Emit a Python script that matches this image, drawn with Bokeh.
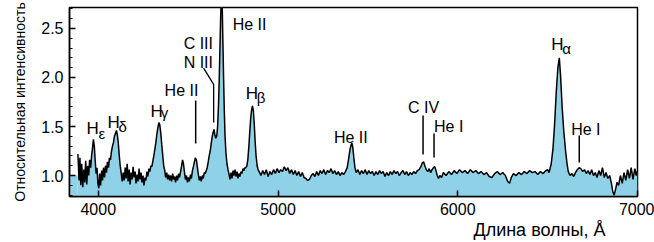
import math
from bokeh.plotting import figure
from bokeh.models import Range1d, Title, SingleIntervalTicker, PrintfTickFormatter
from bokeh.embed import file_html
from bokeh.resources import INLINE
from bokeh.core.properties import value

# ---------------- data ----------------
wavelength = [
    3887, 3893, 3898, 3903, 3908, 3914, 3919, 3925, 3930, 3936, 3941, 3947, 3952, 3958, 3963, 3968,
    3973, 3978, 3983, 3988, 3993, 3998, 4003, 4008, 4013, 4019, 4024, 4029, 4035, 4040, 4046, 4051,
    4057, 4062, 4068, 4073, 4079, 4085, 4090, 4096, 4101, 4106, 4111, 4117, 4122, 4128, 4133, 4139,
    4144, 4150, 4155, 4161, 4166, 4172, 4177, 4183, 4188, 4194, 4199, 4205, 4210, 4216, 4221, 4227,
    4232, 4238, 4243, 4249, 4254, 4260, 4265, 4271, 4276, 4282, 4287, 4293, 4298, 4304, 4309, 4315,
    4320, 4326, 4331, 4337, 4342, 4348, 4353, 4359, 4364, 4370, 4375, 4381, 4386, 4392, 4397, 4403,
    4408, 4414, 4419, 4425, 4430, 4436, 4441, 4447, 4452, 4458, 4463, 4469, 4474, 4480, 4485, 4491,
    4496, 4502, 4507, 4513, 4518, 4524, 4529, 4535, 4540, 4546, 4551, 4557, 4562, 4568, 4573, 4579,
    4584, 4590, 4595, 4601, 4606, 4612, 4617, 4623, 4628, 4634, 4639, 4644, 4649, 4654, 4659, 4664,
    4669, 4673, 4677, 4681, 4684, 4687, 4690, 4693, 4697, 4701, 4705, 4710, 4716, 4722, 4728, 4733,
    4739, 4744, 4750, 4755, 4761, 4766, 4772, 4777, 4783, 4788, 4794, 4799, 4805, 4810, 4816, 4821,
    4827, 4832, 4838, 4843, 4848, 4853, 4858, 4863, 4868, 4873, 4878, 4884, 4889, 4895, 4905, 4915,
    4925, 4935, 4945, 4955, 4965, 4975, 4985, 4995, 5005, 5015, 5025, 5035, 5045, 5055, 5065, 5075,
    5085, 5095, 5105, 5115, 5125, 5135, 5145, 5155, 5165, 5175, 5185, 5195, 5205, 5215, 5225, 5235,
    5245, 5255, 5265, 5275, 5285, 5295, 5305, 5315, 5325, 5335, 5345, 5355, 5365, 5375, 5385, 5393,
    5400, 5406, 5411, 5416, 5422, 5428, 5435, 5445, 5455, 5465, 5475, 5485, 5495, 5505, 5515, 5525,
    5535, 5545, 5555, 5565, 5575, 5585, 5595, 5605, 5615, 5625, 5635, 5645, 5655, 5665, 5675, 5685,
    5695, 5705, 5715, 5725, 5735, 5745, 5755, 5765, 5775, 5785, 5795, 5803, 5810, 5817, 5825, 5833,
    5841, 5849, 5857, 5865, 5872, 5879, 5886, 5893, 5900, 5910, 5920, 5935, 5950, 5965, 5980, 5995,
    6010, 6025, 6040, 6055, 6070, 6085, 6100, 6115, 6130, 6145, 6160, 6175, 6190, 6205, 6220, 6235,
    6250, 6265, 6278, 6288, 6298, 6310, 6325, 6340, 6355, 6370, 6385, 6400, 6415, 6430, 6445, 6460,
    6475, 6490, 6500, 6508, 6520, 6530, 6538, 6548, 6557, 6565, 6572, 6581, 6590, 6600, 6608, 6615,
    6625, 6635, 6645, 6655, 6665, 6675, 6685, 6695, 6705, 6715, 6725, 6735, 6745, 6755, 6765, 6775,
    6785, 6795, 6805, 6815, 6825, 6835, 6845, 6855, 6862, 6870, 6878, 6886, 6895, 6905, 6915, 6925,
    6935, 6945, 6955, 6965, 6975, 6985, 6993, 7000,
]
intensity = [
    1.22, 0.95, 1.18, 0.90, 1.12, 0.88, 1.06, 0.93, 1.15, 0.91, 1.10, 1.00, 1.16, 1.08, 1.20, 1.28,
    1.37, 1.30, 1.15, 1.02, 1.08, 0.92, 0.87, 1.02, 0.90, 1.05, 0.95, 1.08, 0.98, 1.10, 1.03, 1.14,
    1.08, 1.18, 1.16, 1.24, 1.30, 1.34, 1.40, 1.43, 1.46, 1.42, 1.34, 1.20, 1.10, 1.02, 0.94, 1.03,
    0.95, 1.08, 0.97, 1.12, 0.94, 1.06, 0.91, 1.03, 0.96, 1.09, 0.98, 1.04, 0.92, 1.01, 0.94, 1.07,
    0.96, 1.03, 0.93, 1.00, 0.90, 0.98, 0.95, 1.04, 0.99, 1.07, 1.04, 1.10, 1.09, 1.15, 1.20, 1.27,
    1.33, 1.42, 1.48, 1.54, 1.52, 1.43, 1.32, 1.20, 1.10, 1.05, 0.98, 1.03, 0.96, 1.01, 0.95, 1.00,
    0.94, 1.02, 0.96, 0.99, 0.93, 1.00, 0.95, 1.02, 0.98, 1.04, 1.09, 1.16, 1.12, 1.03, 0.96, 1.00,
    0.93, 0.98, 0.94, 1.01, 0.97, 1.05, 1.09, 1.14, 1.18, 1.16, 1.09, 1.01, 0.95, 0.99, 0.94, 1.00,
    0.97, 1.03, 1.02, 1.05, 1.08, 1.14, 1.20, 1.25, 1.32, 1.40, 1.44, 1.47, 1.41, 1.38, 1.40, 1.50,
    1.72, 1.98, 2.30, 2.62, 2.78, 2.85, 2.70, 2.40, 2.02, 1.68, 1.42, 1.24, 1.12, 1.06, 1.01, 0.96,
    1.03, 0.97, 1.05, 1.00, 1.06, 0.99, 1.04, 0.97, 1.02, 0.99, 1.04, 1.02, 1.07, 1.05, 1.08, 1.08,
    1.10, 1.16, 1.30, 1.45, 1.58, 1.67, 1.71, 1.66, 1.52, 1.34, 1.20, 1.10, 1.06, 1.04, 1.00, 1.05,
    1.01, 1.06, 0.99, 1.04, 1.01, 1.06, 1.02, 1.07, 1.03, 1.06, 1.04, 1.09, 1.05, 1.08, 1.02, 1.06,
    1.01, 1.05, 1.00, 1.04, 0.99, 1.03, 0.98, 0.97, 0.95, 0.96, 1.00, 1.02, 0.99, 1.04, 1.00, 1.05,
    1.02, 1.06, 1.01, 1.05, 1.03, 1.07, 1.02, 1.05, 1.01, 1.04, 1.00, 1.03, 1.01, 1.04, 1.08, 1.17,
    1.26, 1.31, 1.33, 1.29, 1.18, 1.08, 1.03, 1.06, 1.01, 1.05, 1.02, 1.06, 1.01, 1.05, 1.02, 1.04,
    1.00, 1.04, 1.01, 1.05, 1.02, 1.04, 0.99, 1.03, 1.00, 1.04, 1.01, 1.05, 1.02, 1.04, 1.00, 1.03,
    1.05, 1.01, 1.04, 1.00, 1.03, 1.01, 1.04, 1.02, 1.05, 1.06, 1.09, 1.13, 1.14, 1.10, 1.06, 1.04,
    1.07, 1.03, 1.06, 1.08, 1.09, 1.05, 1.00, 0.97, 1.00, 0.98, 1.03, 1.00, 1.04, 1.01, 1.05, 1.02,
    1.06, 1.03, 1.05, 1.02, 1.06, 1.03, 1.05, 1.02, 1.04, 1.01, 1.03, 0.99, 0.98, 1.02, 1.04, 1.01,
    1.03, 1.00, 0.94, 0.92, 0.98, 1.02, 1.00, 1.03, 1.01, 1.04, 1.02, 1.05, 1.03, 1.04, 1.01, 1.04,
    1.02, 1.05, 1.06, 1.03, 1.12, 1.28, 1.50, 1.85, 2.10, 2.20, 2.02, 1.69, 1.45, 1.25, 1.12, 1.04,
    1.00, 1.02, 0.99, 1.03, 1.06, 1.08, 1.07, 1.04, 1.06, 1.02, 1.05, 1.01, 1.06, 1.00, 1.03, 0.98,
    1.05, 1.00, 1.08, 0.98, 1.03, 0.97, 1.00, 0.92, 0.84, 0.80, 0.86, 0.93, 0.90, 1.00, 0.92, 1.03,
    0.95, 1.06, 0.97, 1.08, 0.96, 1.07, 1.00, 1.05,
]
# flat fill to the left of the recorded spectrum
fill_pad_wavelength = [3840, 3886]
fill_pad_intensity = [1.0, 1.0]

x_range = (3840, 7000)
y_range = (0.786, 2.714)

# line identifications (simple labels)
ion_text = ["He II", "C III", "N III", "He II", "He II", "C IV", "He I", "He I"]
ion_x = [4369, 4475, 4475, 4748, 5311, 5723, 5868, 6631]
ion_y = [1.867, 2.347, 2.153, 2.541, 1.388, 1.694, 1.500, 1.469]

# Balmer labels: "H" + greek subscript
balmer_greek = ["ε", "δ", "γ", "β", "α"]
balmer_h_x = [3935, 4052, 4291, 4820, 6520]
balmer_h_y = [1.480, 1.541, 1.653, 1.837, 2.337]
balmer_g_x = [4002, 4113, 4347, 4882, 6581]
balmer_g_y = [1.429, 1.500, 1.643, 1.796, 2.296]

# marker ticks (vertical strokes)
tick_x = [4542, 5807, 5868, 6676]
tick_y0 = [1.327, 1.214, 1.184, 1.133]
tick_y1 = [1.765, 1.612, 1.429, 1.408]
# C III / N III pointer
pointer_x = [4586, 4642, 4642]
pointer_y = [2.095, 1.930, 1.541]

FONT = "Liberation Sans"

p = figure(width=654, height=242, output_backend="svg", toolbar_location=None,
           x_range=Range1d(*x_range), y_range=Range1d(*y_range),
           min_border_left=69, min_border_right=17, min_border_top=7, min_border_bottom=46)
p.background_fill_color = "white"
p.border_fill_color = "white"
p.grid.visible = False
p.outline_line_color = "black"
p.outline_line_width = 1.5

p.varea(x=fill_pad_wavelength, y1=0.6, y2=fill_pad_intensity, fill_color="#8fd1e6")
p.varea(x=wavelength, y1=0.6, y2=intensity, fill_color="#8fd1e6")
p.line(wavelength, intensity, line_color="black", line_width=1.5)

p.segment(x0=tick_x, y0=tick_y0, x1=tick_x, y1=tick_y1, line_color="black", line_width=1.5)
p.line(pointer_x, pointer_y, line_color="black", line_width=1.3)

p.text(x=ion_x, y=ion_y, text=ion_text, text_font=value(FONT), text_font_size=value("16px"),
       text_align="left", text_baseline="alphabetic", text_color="black")
p.text(x=balmer_h_x, y=balmer_h_y, text=["H"] * len(balmer_h_x), text_font=value(FONT),
       text_font_size=value("17px"), text_align="left", text_baseline="alphabetic", text_color="black")
p.text(x=balmer_g_x, y=balmer_g_y, text=balmer_greek, text_font=value(FONT),
       text_font_size=value("15px"), text_align="left", text_baseline="alphabetic", text_color="black")

for ax in (p.xaxis[0], p.yaxis[0]):
    ax.axis_line_color = "black"
    ax.axis_line_width = 1.5
    ax.major_tick_line_color = "black"
    ax.major_tick_line_width = 1.5
    ax.major_tick_in = 6
    ax.major_tick_out = 0
    ax.major_label_text_font = FONT
    ax.major_label_text_font_size = "16px"
    ax.major_label_text_color = "black"
    ax.major_label_standoff = 6

p.xaxis.ticker = SingleIntervalTicker(interval=1000, num_minor_ticks=0)
p.xaxis.minor_tick_line_color = None
p.yaxis.ticker = SingleIntervalTicker(interval=0.5, num_minor_ticks=5)
p.yaxis.formatter = PrintfTickFormatter(format="%.1f")
p.yaxis.minor_tick_line_color = "black"
p.yaxis.minor_tick_line_width = 1.2
p.yaxis.minor_tick_in = 3
p.yaxis.minor_tick_out = 0

p.yaxis.axis_label = "Относительная интенсивность"
p.yaxis.axis_label_text_font = FONT
p.yaxis.axis_label_text_font_size = "14px"
p.yaxis.axis_label_text_font_style = "normal"
p.yaxis.axis_label_text_color = "black"
p.yaxis.axis_label_standoff = 10

p.add_layout(Title(text="Длина волны, Å", align="right", offset=32, standoff=0,
                   text_font=FONT, text_font_size="18px", text_font_style="normal",
                   text_color="black"), "below")

open("out.html", "w").write(file_html(p, INLINE))
